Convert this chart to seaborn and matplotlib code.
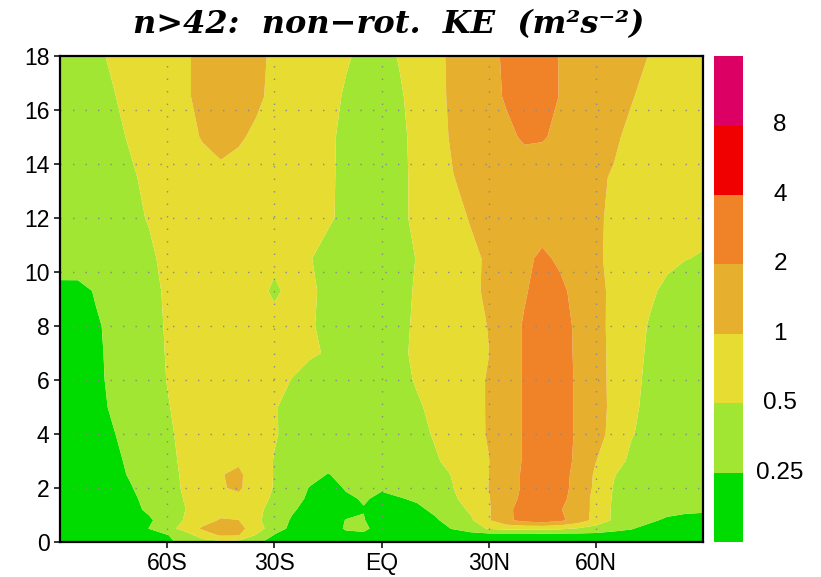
import numpy as np
import matplotlib
matplotlib.use("Agg")
import matplotlib.pyplot as plt
import seaborn as sns

# latitude columns (deg, S negative) and vertical levels (axis units)
lats = list(range(-90, 91, 5))
heights = [0, 0.25, 0.5, 0.8, 1.2, 1.6, 2, 2.5, 3, 4, 5, 6, 7, 8, 9.3, 10.5, 12, 13.5, 15, 16.5, 18]

# log2 of non-rotational KE (m2 s-2), one list per level
lv_00_0 = [-2.9, -2.85, -2.8, -2.75, -2.65, -2.5, -2.2, -1.7, -1.4, -1.2, -1.3, -1.8, -2.4, -2.6, -2.6, -2.6, -2.5, -2.5, -2.55, -2.6, -2.6, -2.55, -2.5, -2.5, -2.5, -2.55, -2.55, -2.5, -2.5, -2.5, -2.45, -2.45, -2.5, -2.55, -2.6, -2.6, -2.6]
lv_00_25 = [-2.9, -2.85, -2.8, -2.7, -2.55, -2.3, -2.05, -1.5, -0.5, 0.1, 0.05, -1.1, -2.05, -2.4, -2.6, -2.6, -2.25, -2.2, -2.5, -2.6, -2.6, -2.5, -2.4, -2.4, -2.4, -2.45, -2.45, -2.4, -2.4, -2.35, -2.3, -2.25, -2.3, -2.4, -2.5, -2.5, -2.5]
lv_00_5 = [-2.9, -2.8, -2.7, -2.55, -2.35, -1.98, -1.4, -0.6, 0.15, 0.35, 0.3, -0.5, -1.6, -2.2, -2.55, -2.5, -1.9, -1.8, -2.4, -2.6, -2.55, -2.3, -1.95, -1.5, -0.9, -0.7, -0.7, -0.7, -0.8, -1.05, -1.4, -1.8, -1.95, -2.25, -2.4, -2.45, -2.45]
lv_00_8 = [-2.9, -2.8, -2.65, -2.5, -2.3, -2.08, -1.7, -0.9, -0.4, 0.1, 0.02, -0.8, -1.5, -2.1, -2.45, -2.5, -1.97, -1.95, -2.5, -2.55, -2.45, -2.1, -1.7, -1.15, -0.1, 0.8, 1.3, 1.5, 1.2, 0.55, -0.35, -1.15, -1.55, -1.85, -2.15, -2.3, -2.35]
lv_01_2 = [-2.85, -2.75, -2.6, -2.4, -2.15, -1.9, -1.45, -1.02, -0.6, -0.4, -0.4, -0.8, -1.3, -1.9, -2.3, -2.45, -2.25, -2.03, -2.4, -2.35, -2.15, -1.85, -1.4, -0.85, -0.1, 0.8, 1.35, 1.5, 1.05, 0.6, -0.3, -1.15, -1.45, -1.6, -1.7, -1.8, -1.85]
lv_01_6 = [-2.8, -2.7, -2.55, -2.35, -2.12, -1.8, -1.4, -0.95, -0.55, -0.3, -0.25, -0.65, -1.15, -1.7, -2.15, -2.4, -2.1, -1.95, -2.1, -2.05, -1.9, -1.6, -1.15, -0.6, -0.05, 0.6, 1.25, 1.45, 1.25, 0.6, -0.3, -1.1, -1.4, -1.5, -1.55, -1.65, -1.7]
lv_02_0 = [-2.75, -2.65, -2.45, -2.25, -2.03, -1.7, -1.3, -0.9, -0.5, -0.08, 0.15, -0.55, -1.05, -1.55, -2.05, -2.25, -1.95, -1.75, -1.95, -1.75, -1.6, -1.4, -1.02, -0.5, 0.01, 0.55, 1.15, 1.4, 1.3, 0.7, -0.2, -1.05, -1.4, -1.5, -1.55, -1.58, -1.6]
lv_02_5 = [-2.7, -2.6, -2.4, -2.2, -1.92, -1.6, -1.25, -0.88, -0.5, -0.05, 0.2, -0.6, -1.03, -1.4, -1.7, -2.03, -1.8, -1.65, -1.65, -1.6, -1.5, -1.3, -0.95, -0.5, -0.01, 0.55, 1.15, 1.4, 1.3, 0.75, -0.15, -0.95, -1.35, -1.5, -1.55, -1.58, -1.6]
lv_03_0 = [-2.65, -2.55, -2.35, -2.13, -1.88, -1.55, -1.2, -0.85, -0.55, -0.2, -0.15, -0.65, -1.03, -1.3, -1.55, -1.7, -1.65, -1.6, -1.6, -1.55, -1.4, -1.12, -0.7, -0.35, -0.02, 0.5, 1.1, 1.4, 1.3, 0.85, 0.02, -0.6, -1.2, -1.4, -1.5, -1.55, -1.58]
lv_04_0 = [-2.6, -2.5, -2.3, -2.03, -1.75, -1.45, -1.13, -0.8, -0.6, -0.5, -0.55, -0.7, -0.95, -1.18, -1.4, -1.5, -1.55, -1.6, -1.6, -1.5, -1.3, -0.9, -0.5, -0.22, 0.05, 0.5, 1.1, 1.4, 1.3, 0.9, 0.3, -0.25, -0.95, -1.25, -1.4, -1.5, -1.55]
lv_05_0 = [-2.55, -2.45, -2.2, -1.9, -1.65, -1.38, -1.05, -0.75, -0.6, -0.5, -0.55, -0.7, -0.95, -1.2, -1.4, -1.5, -1.55, -1.6, -1.6, -1.45, -1.15, -0.7, -0.4, -0.2, 0.05, 0.5, 1.1, 1.4, 1.3, 0.9, 0.3, -0.18, -0.85, -1.2, -1.38, -1.48, -1.52]
lv_06_0 = [-2.5, -2.4, -2.15, -1.85, -1.6, -1.35, -0.98, -0.7, -0.55, -0.45, -0.5, -0.6, -0.8, -1.02, -1.25, -1.4, -1.5, -1.55, -1.6, -1.35, -0.88, -0.55, -0.35, -0.2, 0.05, 0.5, 1.1, 1.4, 1.3, 0.9, 0.3, -0.2, -0.8, -1.15, -1.35, -1.45, -1.5]
lv_07_0 = [-2.45, -2.38, -2.13, -1.83, -1.58, -1.32, -0.95, -0.68, -0.52, -0.42, -0.48, -0.6, -0.7, -0.8, -0.92, -1.05, -1.4, -1.55, -1.6, -1.25, -0.75, -0.55, -0.35, -0.18, -0.01, 0.5, 1.1, 1.4, 1.3, 0.87, 0.28, -0.2, -0.75, -1.1, -1.32, -1.42, -1.48]
lv_08_0 = [-2.4, -2.35, -2.1, -1.8, -1.55, -1.3, -0.92, -0.65, -0.5, -0.4, -0.45, -0.6, -0.7, -0.8, -0.92, -1.2, -1.45, -1.55, -1.6, -1.3, -0.8, -0.55, -0.35, -0.18, 0.02, 0.5, 1.1, 1.4, 1.3, 0.85, 0.25, -0.2, -0.7, -1.05, -1.3, -1.4, -1.45]
lv_09_3 = [-2.25, -2.27, -1.93, -1.7, -1.45, -1.2, -0.9, -0.65, -0.5, -0.4, -0.45, -0.7, -1.15, -0.75, -0.9, -1.15, -1.4, -1.55, -1.6, -1.4, -0.85, -0.6, -0.35, -0.15, 0.12, 0.5, 0.9, 1.4, 1.2, 0.7, 0.2, -0.15, -0.55, -0.88, -1.15, -1.3, -1.35]
lv_10_5 = [-1.5, -1.45, -1.4, -1.3, -1.2, -1.08, -0.88, -0.7, -0.55, -0.45, -0.45, -0.6, -0.8, -0.88, -0.98, -1.15, -1.35, -1.5, -1.55, -1.4, -0.95, -0.65, -0.4, -0.15, 0.1, 0.4, 0.8, 1.17, 0.85, 0.4, 0.1, -0.15, -0.45, -0.7, -0.85, -0.98, -1.05]
lv_12_0 = [-1.55, -1.45, -1.32, -1.2, -1.1, -0.97, -0.7, -0.5, -0.4, -0.38, -0.4, -0.5, -0.6, -0.68, -0.8, -0.94, -1.1, -1.35, -1.45, -1.2, -0.8, -0.5, -0.22, 0.05, 0.25, 0.4, 0.5, 0.55, 0.45, 0.3, 0.1, -0.12, -0.3, -0.5, -0.65, -0.75, -0.8]
lv_13_5 = [-1.5, -1.38, -1.25, -1.15, -1.05, -0.9, -0.6, -0.4, -0.3, -0.23, -0.3, -0.45, -0.55, -0.65, -0.78, -0.93, -1.1, -1.35, -1.45, -1.2, -0.8, -0.4, -0.02, 0.2, 0.35, 0.45, 0.5, 0.45, 0.35, 0.25, 0.1, -0.05, -0.2, -0.35, -0.45, -0.55, -0.6]
lv_15_0 = [-1.5, -1.35, -1.2, -1.1, -0.95, -0.65, -0.4, -0.2, 0.05, 0.3, 0.1, -0.15, -0.4, -0.6, -0.75, -0.92, -1.1, -1.35, -1.45, -1.2, -0.75, -0.3, 0.1, 0.35, 0.55, 0.8, 1.12, 1.08, 0.8, 0.55, 0.3, 0.1, -0.15, -0.3, -0.4, -0.5, -0.55]
lv_16_5 = [-1.5, -1.3, -1.15, -1.03, -0.8, -0.55, -0.35, -0.1, 0.2, 0.55, 0.5, 0.15, -0.2, -0.45, -0.65, -0.85, -1.05, -1.3, -1.4, -1.1, -0.7, -0.25, 0.15, 0.45, 0.7, 1.1, 1.35, 1.3, 0.97, 0.65, 0.4, 0.25, 0.04, -0.2, -0.35, -0.45, -0.5]
lv_18_0 = [-1.5, -1.3, -1.12, -0.9, -0.7, -0.5, -0.3, -0.1, 0.2, 0.5, 0.5, 0.2, -0.15, -0.4, -0.6, -0.8, -0.95, -1.1, -1.25, -0.95, -0.6, -0.2, 0.15, 0.4, 0.75, 1.15, 1.4, 1.4, 0.95, 0.7, 0.5, 0.35, 0.2, -0.02, -0.2, -0.3, -0.4]

# contour levels (m2 s-2) and shading colours
ke_levels = [0.25, 0.5, 1, 2, 4, 8]
ke_labels = ["0.25", "0.5", "1", "2", "4", "8"]
shade_colors = ["#00dc00", "#a0e632", "#e6dc32", "#e6af2d", "#f08228", "#f00000", "#dc0064"]

xtick_vals = [-60, -30, 0, 30, 60]
xtick_labels = ["60S", "30S", "EQ", "30N", "60N"]
ytick_vals = list(range(0, 19, 2))
title_text = "n>42:  non\u2212rot.  KE  (m\u00b2s\u207b\u00b2)"

sns.set_theme(style="ticks")
plt.rcParams["font.family"] = ["Liberation Sans", "DejaVu Sans"]

grid = np.array([lv_00_0, lv_00_25, lv_00_5, lv_00_8, lv_01_2, lv_01_6, lv_02_0, lv_02_5,
                 lv_03_0, lv_04_0, lv_05_0, lv_06_0, lv_07_0, lv_08_0, lv_09_3, lv_10_5,
                 lv_12_0, lv_13_5, lv_15_0, lv_16_5, lv_18_0])

W, H = 821, 577
fig = plt.figure(figsize=(W / 100, H / 100), dpi=100)
fig.patch.set_facecolor("white")
ax = fig.add_axes([60 / W, (H - 542) / H, 643 / W, 486 / H])

bounds = [-10.0] + list(np.log2(ke_levels)) + [10.0]
palette = sns.color_palette(shade_colors)
cs = ax.contourf(lats, heights, grid, levels=bounds, colors=palette, antialiased=True)

for xv in xtick_vals:
    ax.axvline(xv, color="#8a8a8a", lw=1.0, ls=(0, (1, 8)), zorder=3)
for yv in ytick_vals[1:-1]:
    ax.axhline(yv, color="#8a8a8a", lw=1.0, ls=(0, (1, 8)), zorder=3)

ax.set_xlim(-90, 90)
ax.set_ylim(0, 18)
ax.set_xticks(xtick_vals)
ax.set_xticklabels(xtick_labels)
ax.set_yticks(ytick_vals)
ax.tick_params(axis="both", direction="out", length=4.5, width=1.1, color="black",
               labelsize=16.5, labelcolor="black", pad=3)
for s in ax.spines.values():
    s.set_linewidth(1.6)
    s.set_color("black")
    s.set_zorder(5)

cax = fig.add_axes([714 / W, (H - 542) / H, 29 / W, 486 / H])
cb = fig.colorbar(cs, cax=cax, spacing="uniform")
cb.outline.set_visible(False)
cb.set_ticks([])
cax.tick_params(length=0)
nbox = len(shade_colors)
for k, lab in enumerate(ke_labels):
    cax.text(2.28, (k + 1) / nbox, lab, transform=cax.transAxes, ha="center", va="center",
             fontsize=17.5, color="black")

fig.text(389 / W, 1 - 25 / H, title_text, ha="center", va="center", fontsize=23,
         fontstyle="italic", fontweight="bold", color="black",
         family=["DejaVu Serif", "DejaVu Sans"])

fig.savefig("out.png", dpi=100)
